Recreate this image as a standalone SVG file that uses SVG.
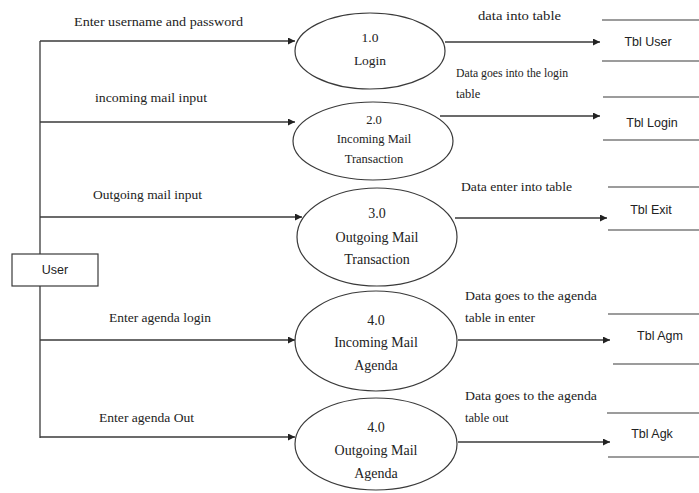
<svg xmlns="http://www.w3.org/2000/svg" width="699" height="493" viewBox="0 0 699 493">
<style>
.bg{fill:#fff}
.ln{stroke:#3a3a3a;stroke-width:1.3;fill:none}
.arr{stroke:#3a3a3a;stroke-width:1.3;fill:none;marker-end:url(#ah)}
.proc{fill:#fff;stroke:#3a3a3a;stroke-width:1.2}
.box{fill:#fff;stroke:#3a3a3a;stroke-width:1.2}
.st{stroke:#3a3a3a;stroke-width:1.2}
.serif{font-family:"Liberation Serif","Times New Roman",serif;font-size:12.5px;fill:#222}
.pt{font-family:"Liberation Serif","Times New Roman",serif;font-size:13.5px;fill:#222;text-anchor:middle}
.pt2{font-size:12.5px}
.pt3{font-size:14px}
.sans{font-family:"Liberation Sans",Arial,sans-serif;font-size:12.5px;fill:#222;text-anchor:middle}
</style>
<defs>
<marker id="ah" viewBox="0 0 10 10" refX="10" refY="5" markerWidth="8" markerHeight="7" markerUnits="userSpaceOnUse" orient="auto">
<path d="M0,0 L10,5 L0,10 z" fill="#222"/>
</marker>
</defs>
<rect class="bg" x="0" y="0" width="699" height="493"/>

<g id="connectors">
<line class="ln" x1="40" y1="41" x2="40" y2="438"/>
<line class="arr" x1="40" y1="41" x2="295" y2="41"/>
<line class="arr" x1="40" y1="122" x2="295" y2="122"/>
<line class="arr" x1="40" y1="217" x2="302" y2="217"/>
<line class="arr" x1="40" y1="340" x2="295" y2="340"/>
<line class="arr" x1="40" y1="437" x2="295" y2="437"/>
<line class="arr" x1="445" y1="42" x2="600" y2="42"/>
<line class="arr" x1="440" y1="116" x2="600" y2="116"/>
<line class="arr" x1="455" y1="218" x2="607" y2="218"/>
<line class="arr" x1="458" y1="340" x2="610" y2="340"/>
<line class="arr" x1="458" y1="442" x2="610" y2="442"/>
<text class="serif" x="74" y="26" textLength="169" lengthAdjust="spacingAndGlyphs">Enter username and password</text>
<text class="serif" x="95" y="102" textLength="112" lengthAdjust="spacingAndGlyphs">incoming mail input</text>
<text class="serif" x="93" y="199" textLength="109" lengthAdjust="spacingAndGlyphs">Outgoing mail input</text>
<text class="serif" x="109" y="322" textLength="102" lengthAdjust="spacingAndGlyphs">Enter agenda login</text>
<text class="serif" x="99" y="422" textLength="95" lengthAdjust="spacingAndGlyphs">Enter agenda Out</text>
<text class="serif" x="478" y="20" textLength="83" lengthAdjust="spacingAndGlyphs">data into table</text>
<text class="serif" x="456" y="77" textLength="112" lengthAdjust="spacingAndGlyphs">Data goes into the login</text>
<text class="serif" x="456" y="98">table</text>
<text class="serif" x="461" y="191" textLength="111" lengthAdjust="spacingAndGlyphs">Data enter into table</text>
<text class="serif" x="465" y="300" textLength="132" lengthAdjust="spacingAndGlyphs">Data goes to the agenda</text>
<text class="serif" x="465" y="322" textLength="70" lengthAdjust="spacingAndGlyphs">table in enter</text>
<text class="serif" x="465" y="400" textLength="132" lengthAdjust="spacingAndGlyphs">Data goes to the agenda</text>
<text class="serif" x="465" y="422">table out</text>
</g>

<g id="user">
<rect class="box" x="12" y="254" width="86" height="32"/>
<text class="sans" x="55" y="274">User</text>
</g>

<g id="p1">
<ellipse class="proc" cx="370" cy="51" rx="75" ry="38"/>
<text class="pt" x="370" y="42">1.0</text>
<text class="pt" x="370" y="65">Login</text>
</g>
<g id="p2">
<ellipse class="proc" cx="373" cy="141" rx="80" ry="39"/>
<text class="pt pt2" x="374" y="124">2.0</text>
<text class="pt pt2" x="374" y="143">Incoming Mail</text>
<text class="pt pt2" x="374" y="163">Transaction</text>
</g>
<g id="p3">
<ellipse class="proc" cx="377" cy="237" rx="80" ry="49"/>
<text class="pt pt3" x="377" y="218">3.0</text>
<text class="pt pt3" x="377" y="242">Outgoing Mail</text>
<text class="pt pt3" x="377" y="264">Transaction</text>
</g>
<g id="p4">
<ellipse class="proc" cx="376" cy="341" rx="81" ry="50"/>
<text class="pt pt3" x="376" y="325">4.0</text>
<text class="pt pt3" x="376" y="347">Incoming Mail</text>
<text class="pt pt3" x="376" y="370">Agenda</text>
</g>
<g id="p5">
<ellipse class="proc" cx="376" cy="444" rx="81" ry="46"/>
<text class="pt pt3" x="376" y="432">4.0</text>
<text class="pt pt3" x="376" y="455">Outgoing Mail</text>
<text class="pt pt3" x="376" y="478">Agenda</text>
</g>

<g id="tbl-user">
<line class="st" x1="602" y1="20" x2="699" y2="20"/>
<line class="st" x1="602" y1="61" x2="699" y2="61"/>
<text class="sans" x="648" y="46">Tbl User</text>
</g>
<g id="tbl-login">
<line class="st" x1="603" y1="97" x2="699" y2="97"/>
<line class="st" x1="603" y1="140" x2="699" y2="140"/>
<text class="sans" x="652" y="127">Tbl Login</text>
</g>
<g id="tbl-exit">
<line class="st" x1="608" y1="187" x2="699" y2="187"/>
<line class="st" x1="608" y1="230" x2="699" y2="230"/>
<text class="sans" x="651" y="214">Tbl Exit</text>
</g>
<g id="tbl-agm">
<line class="st" x1="608" y1="314" x2="699" y2="314"/>
<line class="st" x1="613" y1="364" x2="699" y2="364"/>
<text class="sans" x="660" y="340">Tbl Agm</text>
</g>
<g id="tbl-agk">
<line class="st" x1="607" y1="413" x2="699" y2="413"/>
<line class="st" x1="608" y1="457" x2="699" y2="457"/>
<text class="sans" x="652" y="438">Tbl Agk</text>
</g>
</svg>
